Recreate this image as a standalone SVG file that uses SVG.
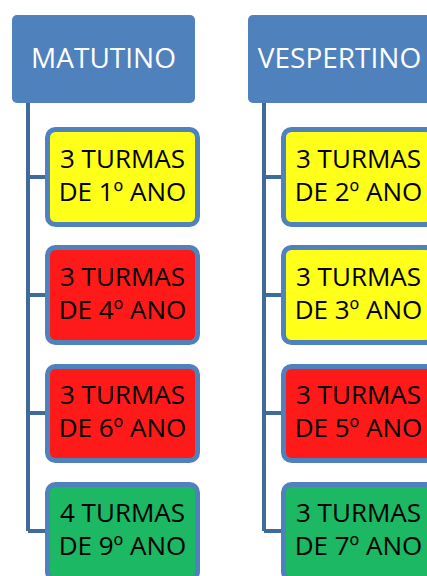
<svg xmlns="http://www.w3.org/2000/svg" width="427" height="576" viewBox="0 0 427 576">
<style>
.head{fill:#4F81BD;}
.ht{fill:#FFFFFF;font-family:"Open Sans","Noto Sans",sans-serif;font-size:28px;text-anchor:middle;}
.box{stroke:#4F81BD;stroke-width:5;}
.y{fill:#FFFF1A;}
.r{fill:#FF1A1A;}
.g{fill:#1CB863;}
.bt{fill:#000000;font-family:"Open Sans","Noto Sans",sans-serif;font-size:26px;text-anchor:middle;}
.c{fill:none;stroke:#3E6A9C;stroke-width:4;}
</style>
<rect width="427" height="576" fill="#FFFFFF"/>
<g id="connectors">
<path class="c" d="M28 103 V531 M28 177 H45 M28 295 H45 M28 413 H45 M28 531 H45"/>
<path class="c" d="M264 103 V531 M264 177 H281 M264 295 H281 M264 413 H281 M264 531 H281"/>
</g>
<g id="matutino">
<rect class="head" x="12" y="15" width="183" height="88" rx="5"/>
<text class="ht" x="103.5" y="68">MATUTINO</text>
</g>
<g id="vespertino">
<rect class="head" x="248" y="15" width="183" height="88" rx="5"/>
<text class="ht" x="339.5" y="68">VESPERTINO</text>
</g>
<g id="m1">
<rect class="box y" x="47.5" y="129.5" width="150" height="95" rx="8"/>
<text class="bt" x="122.5" y="168">3 TURMAS</text>
<text class="bt" x="122.5" y="201">DE 1º ANO</text>
</g>
<g id="m4">
<rect class="box r" x="47.5" y="247.5" width="150" height="95" rx="8"/>
<text class="bt" x="122.5" y="286">3 TURMAS</text>
<text class="bt" x="122.5" y="319">DE 4º ANO</text>
</g>
<g id="m6">
<rect class="box r" x="47.5" y="366.5" width="150" height="94" rx="8"/>
<text class="bt" x="122.5" y="404">3 TURMAS</text>
<text class="bt" x="122.5" y="437">DE 6º ANO</text>
</g>
<g id="m9">
<rect class="box g" x="47.5" y="484.5" width="150" height="95" rx="8"/>
<text class="bt" x="122.5" y="522">4 TURMAS</text>
<text class="bt" x="122.5" y="555">DE 9º ANO</text>
</g>
<g id="v2">
<rect class="box y" x="283.5" y="129.5" width="150" height="95" rx="8"/>
<text class="bt" x="358.5" y="168">3 TURMAS</text>
<text class="bt" x="358.5" y="201">DE 2º ANO</text>
</g>
<g id="v3">
<rect class="box y" x="283.5" y="247.5" width="150" height="95" rx="8"/>
<text class="bt" x="358.5" y="286">3 TURMAS</text>
<text class="bt" x="358.5" y="319">DE 3º ANO</text>
</g>
<g id="v5">
<rect class="box r" x="283.5" y="366.5" width="150" height="94" rx="8"/>
<text class="bt" x="358.5" y="404">3 TURMAS</text>
<text class="bt" x="358.5" y="437">DE 5º ANO</text>
</g>
<g id="v7">
<rect class="box g" x="283.5" y="484.5" width="150" height="95" rx="8"/>
<text class="bt" x="358.5" y="522">3 TURMAS</text>
<text class="bt" x="358.5" y="555">DE 7º ANO</text>
</g>
</svg>
